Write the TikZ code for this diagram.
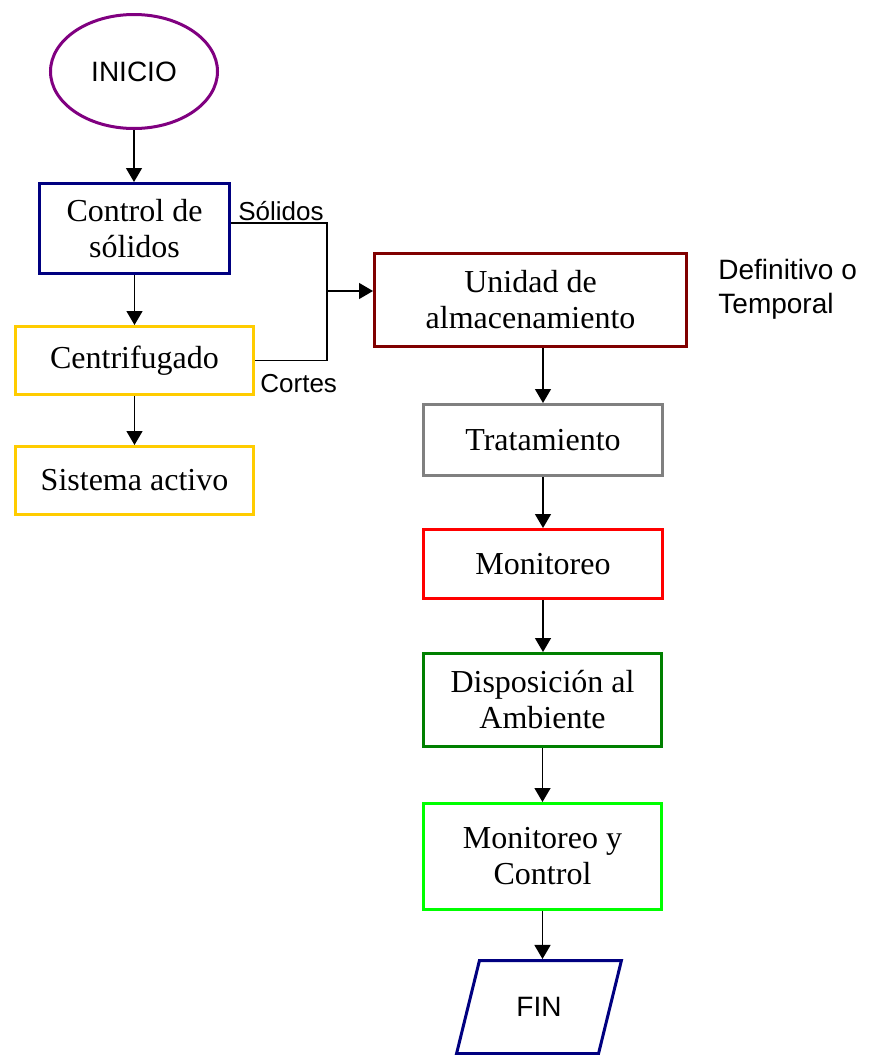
\documentclass[tikz,border=0pt]{standalone}
\usepackage{fontspec}
\setmainfont{Liberation Serif}
\newfontfamily\arialfont{Liberation Sans}
\usetikzlibrary{arrows.meta,shapes.geometric}
\definecolor{navyc}{HTML}{000080}
\definecolor{purplec}{HTML}{800080}
\definecolor{goldc}{HTML}{FFCC00}
\definecolor{maroonc}{HTML}{800000}
\definecolor{grayc}{HTML}{808080}
\definecolor{greenc}{HTML}{008000}
\definecolor{limec}{HTML}{00FF00}
\tikzset{
  box/.style={draw, line width=1.5pt, align=center, inner sep=2pt,
    font=\fontsize{16}{18}\selectfont},
  lbl/.style={inner sep=0pt, font=\arialfont\fontsize{13}{16}\selectfont},
  arr/.style={-{Triangle[length=7pt,width=8pt]}, line width=0.7pt}
}
\begin{document}
\begin{tikzpicture}[x=0.5pt, y=-0.5pt]
\useasboundingbox (0,0) rectangle (871,1055);
% left column
\node[draw=purplec, line width=1.5pt, ellipse, minimum width=83.5pt, minimum height=57pt,
  font=\arialfont\fontsize{14}{17}\selectfont] (inicio) at (134,71.5) {INICIO}; % start
\node[box, draw=navyc, minimum width=95pt, minimum height=45pt] (control) at (134.5,228.5) {Control de\\s\'olidos};
\node[box, draw=goldc, minimum width=119pt, minimum height=34pt] (centri) at (134.5,360.5) {Centrifugado};
\node[box, draw=goldc, minimum width=119pt, minimum height=34pt] (sistema) at (134.5,480.5) {Sistema activo};
% right column
\node[box, draw=maroonc, minimum width=156pt, minimum height=46.5pt] (unidad) at (530.5,300) {Unidad de\\almacenamiento};
\node[box, draw=grayc, minimum width=119.5pt, minimum height=35.5pt] (trata) at (543,440) {Tratamiento};
\node[box, draw=red, minimum width=119.5pt, minimum height=34.5pt] (monit) at (543,564) {Monitoreo};
\node[box, draw=greenc, minimum width=119pt, minimum height=46.5pt] (dispo) at (542.5,700) {Disposici\'on al\\Ambiente};
\node[box, draw=limec, minimum width=119pt, minimum height=53pt] (monctrl) at (542.5,856.5) {Monitoreo y\\Control};
\node[draw=navyc, line width=1.5pt, trapezium, trapezium left angle=71, trapezium right angle=109,
  trapezium stretches=true, minimum width=82.5pt, minimum height=46.5pt,
  font=\arialfont\fontsize{14}{17}\selectfont] (fin) at (539,1007) {FIN}; % end
% labels
\node[lbl, anchor=base west] (solidos) at (238,220) {S\'olidos};
\node[lbl, anchor=base west] (cortes) at (260,392) {Cortes};
\node[lbl, anchor=north west, align=left, font=\arialfont\fontsize{14}{17}\selectfont]
  (tipo) at (718,259) {Definitivo o\\Temporal};
% connectors
\coordinate (junc) at (327,291); % where both lines meet
\draw[arr] (inicio) -- (inicio.south |- control.north);
\draw[arr] (control) -- (centri);
\draw[arr] (centri) -- (sistema);
\draw[line width=0.7pt] ([yshift=2.75pt]control.east) -| (junc) |- (centri.east);
\draw[arr] (junc) -- (junc -| unidad.west);
\draw[arr] (trata.north |- unidad.south) -- (trata);
\draw[arr] (trata) -- (monit);
\draw[arr] (monit) -- (monit.south |- dispo.north);
\draw[arr] (dispo) -- (dispo.south |- monctrl.north);
\draw[arr] (monctrl) -- (monctrl.south |- fin.north);
\end{tikzpicture}
\end{document}
